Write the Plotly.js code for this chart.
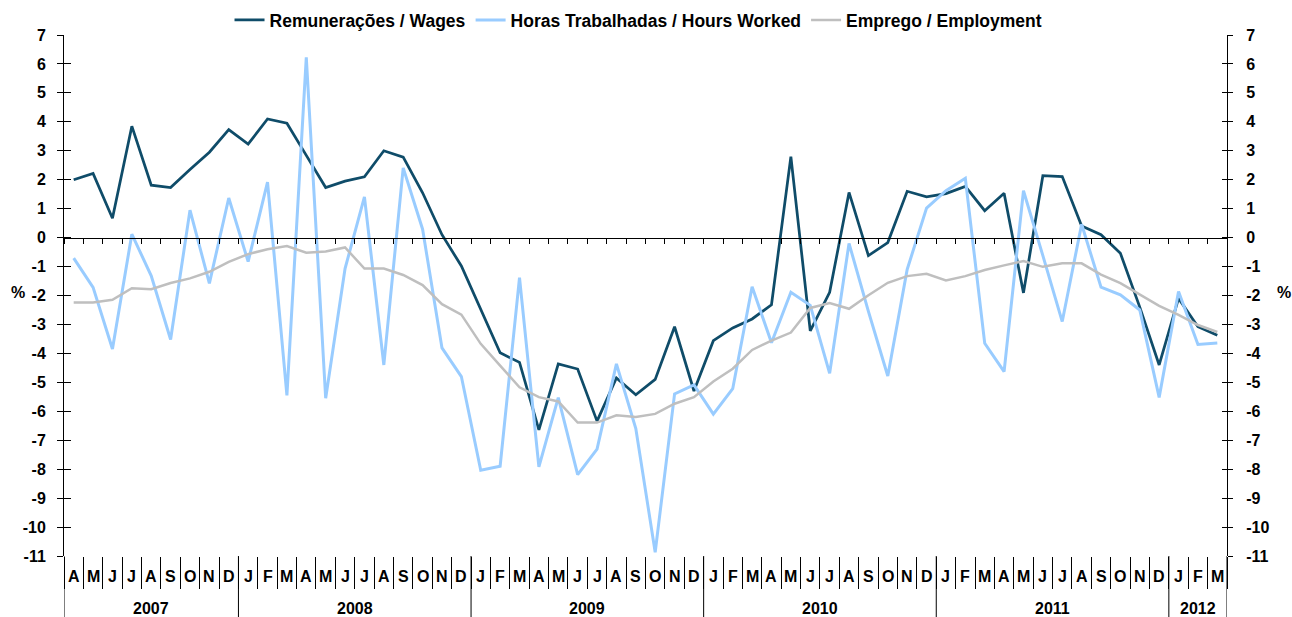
<!DOCTYPE html>
<html>
<head>
<meta charset="utf-8">
<script src="https://cdn.plot.ly/plotly-3.0.1.min.js"></script>
<style>html,body{margin:0;padding:0;background:#fff;}#chart{width:1292px;height:617px;}</style>
</head>
<body>
<div id="chart"></div>
<script>
// ---- Data (Apr 2007 – Mar 2012, monthly, %) ----
var monthLabels = ['A','M','J','J','A','S','O','N','D',
  'J','F','M','A','M','J','J','A','S','O','N','D',
  'J','F','M','A','M','J','J','A','S','O','N','D',
  'J','F','M','A','M','J','J','A','S','O','N','D',
  'J','F','M','A','M','J','J','A','S','O','N','D',
  'J','F','M'];
var yearLabels = ['2007','2008','2009','2010','2011','2012'];
var yearMonthCounts = [9,12,12,12,12,3];

var wages = [2.0,2.22,0.67,3.85,1.81,1.73,2.35,2.95,3.73,
  3.23,4.10,3.95,2.84,1.73,1.95,2.10,3.00,2.78,1.55,0.10,-0.98,
  -2.47,-3.98,-4.31,-6.64,-4.36,-4.54,-6.34,-4.85,-5.43,-4.90,-3.08,-5.30,
  -3.56,-3.12,-2.81,-2.32,2.80,-3.22,-1.89,1.56,-0.62,-0.17,1.60,1.41,
  1.52,1.77,0.93,1.53,-1.91,2.14,2.11,0.40,0.10,-0.54,-2.40,-4.40,
  -2.10,-3.08,-3.37];
var hoursWorked = [-0.71,-1.72,-3.85,0.12,-1.32,-3.52,0.95,-1.58,1.37,
  -0.83,1.92,-5.45,6.23,-5.55,-1.07,1.41,-4.40,2.41,0.29,-3.81,-4.80,
  -8.04,-7.90,-1.38,-7.92,-5.53,-8.19,-7.31,-4.36,-6.60,-10.87,-5.40,-5.09,
  -6.10,-5.22,-1.70,-3.63,-1.89,-2.34,-4.69,-0.20,-2.55,-4.78,-1.10,1.02,
  1.62,2.05,-3.65,-4.63,1.62,-0.62,-2.90,0.46,-1.71,-1.98,-2.50,-5.52,
  -1.86,-3.69,-3.64];
var employment = [-2.24,-2.24,-2.15,-1.75,-1.78,-1.57,-1.41,-1.18,-0.84,
  -0.57,-0.40,-0.29,-0.52,-0.48,-0.34,-1.07,-1.07,-1.29,-1.64,-2.30,-2.66,
  -3.67,-4.42,-5.17,-5.51,-5.66,-6.39,-6.39,-6.14,-6.20,-6.09,-5.74,-5.51,
  -4.97,-4.53,-3.88,-3.56,-3.28,-2.43,-2.26,-2.46,-1.99,-1.56,-1.33,-1.25,
  -1.48,-1.33,-1.12,-0.96,-0.81,-1.01,-0.89,-0.89,-1.28,-1.57,-1.98,-2.36,
  -2.67,-3.02,-3.26];

var seriesNames = ['Remunerações / Wages','Horas Trabalhadas / Hours Worked','Emprego / Employment'];
var yTickVals = [7,6,5,4,3,2,1,0,-1,-2,-3,-4,-5,-6,-7,-8,-9,-10,-11];
var yTickText = ['7','6','5','4','3','2','1','0','-1','-2','-3','-4','-5','-6','-7','-8','-9','-10','-11'];

// ---- Build ----
var xIdx = monthLabels.map(function(_, i){ return i; });
var boundaries = [];
for (var b = 0; b <= monthLabels.length; b++) boundaries.push(b - 0.5);
var xRange = [-0.5, monthLabels.length - 0.5];
var yRange = [yTickVals[yTickVals.length-1], yTickVals[0]];

var FONT = 'Liberation Sans, Arial, sans-serif';
function bold(size){ return {family: FONT, size: size, color: '#000', weight: 700}; }

var traces = [
  {x: xIdx, y: wages, name: seriesNames[0], mode: 'lines', line: {color: '#0F4C69', width: 2.75}},
  {x: xIdx, y: hoursWorked, name: seriesNames[1], mode: 'lines', line: {color: '#99CCFF', width: 3}},
  {x: xIdx, y: employment, name: seriesNames[2], mode: 'lines', line: {color: '#BFBFBF', width: 2.5}},
  // empty helper traces so the overlay axes are drawn
  {x: [], y: [], xaxis: 'x2', yaxis: 'y', showlegend: false, hoverinfo: 'skip'},
  {x: [], y: [], xaxis: 'x', yaxis: 'y2', showlegend: false, hoverinfo: 'skip'},
  {x: [], y: [], xaxis: 'x', yaxis: 'y3', showlegend: false, hoverinfo: 'skip'},
  {x: [], y: [], xaxis: 'x', yaxis: 'y4', showlegend: false, hoverinfo: 'skip'}
];

var H = 617 - 35 - 61; // plot height in px
var annotations = [];
monthLabels.forEach(function(m, i){
  annotations.push({x: i, xref: 'x', y: -20/H, yref: 'paper', text: m, showarrow: false,
    xanchor: 'center', yanchor: 'middle', font: bold(16)});
});
var shapes = [];
var start = 0;
yearLabels.forEach(function(yl, k){
  var n = yearMonthCounts[k];
  annotations.push({x: start + (n - 1) / 2, xref: 'x', y: -52/H, yref: 'paper', text: yl, showarrow: false,
    xanchor: 'center', yanchor: 'middle', font: bold(16)});
  shapes.push({type: 'line', xref: 'x', yref: 'paper', x0: start - 0.5, x1: start - 0.5, y0: 0, y1: -70/H,
    line: {color: '#000', width: 1}});
  start += n;
});
shapes.push({type: 'line', xref: 'x', yref: 'paper', x0: start - 0.5, x1: start - 0.5, y0: 0, y1: -70/H,
  line: {color: '#000', width: 1}});

annotations.push({x: -46/1163, xref: 'paper', y: 0.505, yref: 'paper', text: '%', showarrow: false,
  xanchor: 'center', yanchor: 'middle', font: bold(16)});
annotations.push({x: 1 + 57/1163, xref: 'paper', y: 0.505, yref: 'paper', text: '%', showarrow: false,
  xanchor: 'center', yanchor: 'middle', font: bold(16)});

var layout = {
  width: 1292, height: 617, autosize: false,
  margin: {l: 64, r: 65, t: 35, b: 61, pad: 0, autoexpand: false},
  paper_bgcolor: '#fff', plot_bgcolor: '#fff',
  showlegend: true,
  legend: {orientation: 'h', x: 0.494, xanchor: 'center', y: 1 + 15/H, yanchor: 'middle',
    font: bold(17.5), bgcolor: 'rgba(0,0,0,0)', itemwidth: 30},
  xaxis: {range: xRange, showgrid: false, zeroline: false, showline: false,
    tickmode: 'array', tickvals: boundaries, ticks: 'outside', ticklen: 32, tickwidth: 1, tickcolor: '#000',
    showticklabels: false, fixedrange: true},
  xaxis2: {overlaying: 'x', anchor: 'free', position: (0 - yRange[0]) / (yRange[1] - yRange[0]), side: 'bottom',
    range: xRange, showgrid: false, zeroline: false, showline: true, linecolor: '#000', linewidth: 1,
    tickmode: 'array', tickvals: boundaries, ticks: 'outside', ticklen: 5, tickwidth: 1, tickcolor: '#000',
    showticklabels: false},
  yaxis: {range: yRange, showgrid: false, zeroline: false, showline: true, linecolor: '#000', linewidth: 1,
    tickmode: 'array', tickvals: yTickVals, ticktext: yTickText, ticks: 'outside', ticklen: 6, tickcolor: '#000',
    tickfont: bold(16), ticklabelstandoff: 8},
  yaxis2: {overlaying: 'y', side: 'right', anchor: 'x', range: yRange, showgrid: false, zeroline: false,
    showline: true, linecolor: '#000', linewidth: 1,
    tickmode: 'array', tickvals: yTickVals, ticktext: yTickText, ticks: 'outside', ticklen: 5, tickcolor: '#000',
    tickfont: bold(16), ticklabelstandoff: 10},
  yaxis3: {overlaying: 'y', side: 'left', anchor: 'x', range: yRange, showgrid: false, zeroline: false,
    showline: false, tickmode: 'array', tickvals: yTickVals, ticks: 'inside', ticklen: 7, tickcolor: '#000',
    showticklabels: false},
  yaxis4: {overlaying: 'y', side: 'right', anchor: 'x', range: yRange, showgrid: false, zeroline: false,
    showline: false, tickmode: 'array', tickvals: yTickVals, ticks: 'inside', ticklen: 5, tickcolor: '#000',
    showticklabels: false},
  annotations: annotations,
  shapes: shapes
};

Plotly.newPlot('chart', traces, layout, {displayModeBar: false, staticPlot: true});
</script>
</body>
</html>
